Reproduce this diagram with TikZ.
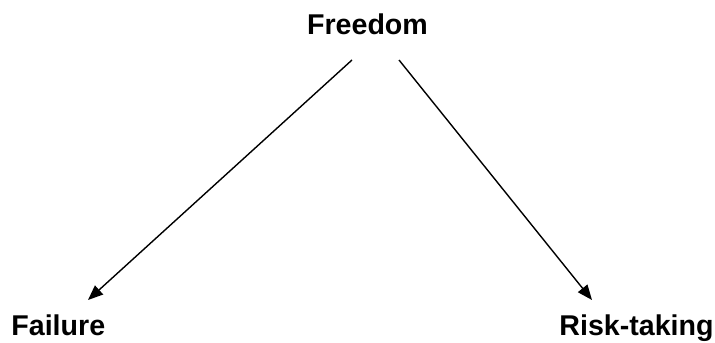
\documentclass[tikz,border=0pt]{standalone}
\usepackage{fontspec}
\setmainfont{Liberation Sans}
\usetikzlibrary{arrows.meta, positioning}
\tikzset{
    label/.style = {inner sep=0pt, font=\fontsize{14.3}{17}\selectfont\bfseries},
    arrow/.style = {-{Triangle[length=7.5pt, width=6pt]}, line width=0.7pt},
}

\begin{document}
\begin{tikzpicture}[x=0.5pt, y=-0.5pt]
        \useasboundingbox (0,0) rectangle (715,342);
        % Labels
        \node (freedom) [label, anchor=base] at (367.5,35) {Freedom};
        \node (failure) [label, anchor=base west] at (11,335) {Failure};
        \node (risk) [label, anchor=base east] at (714,335) {Risk-taking};
        % Arrow ends
        \coordinate (outL) at (352,60);
        \coordinate (outR) at (399,60);
        \coordinate (inL) at (88,300);
        \coordinate (inR) at (592,300);
        % Arrows
        \draw[arrow] (outL) -- (inL);
        \draw[arrow] (outR) -- (inR);
\end{tikzpicture}
\end{document}
